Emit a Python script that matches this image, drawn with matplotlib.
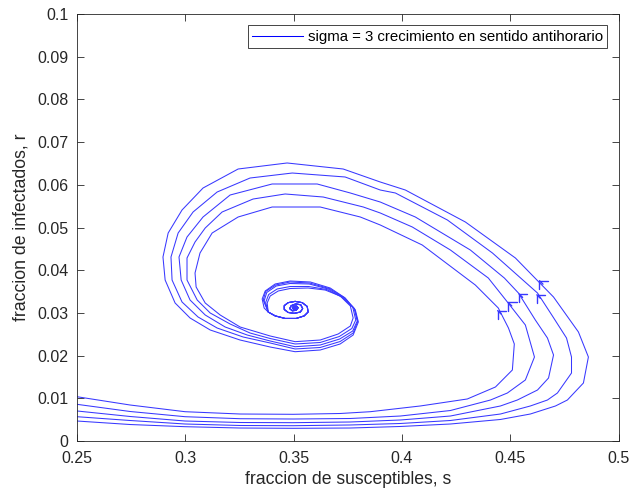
import matplotlib
matplotlib.use("Agg")
import matplotlib.pyplot as plt

plt.rcParams['font.family'] = ['Liberation Sans', 'DejaVu Sans']

# Phase-plane trajectories (s, r) for sigma = 3, five initial conditions.
# Each one runs along the bottom, climbs the right side and turns
# counter-clockwise before spiralling into the endemic equilibrium.
s_a = [0.2500, 0.2745, 0.2999, 0.3253, 0.3498, 0.3762, 0.3993, 0.4224, 0.4455, 0.4593,
       0.4709, 0.4764, 0.4838, 0.4861, 0.4815, 0.4700, 0.4524, 0.4293, 0.4016, 0.3900,
       0.3729, 0.3470, 0.3244, 0.3082, 0.2985, 0.2921, 0.2897, 0.2907, 0.2953, 0.3022,
       0.3115, 0.3253, 0.3392, 0.3507, 0.3623, 0.3715, 0.3775, 0.3799, 0.3785, 0.3738,
       0.3669, 0.3577, 0.3484, 0.3415, 0.3369, 0.3355, 0.3364]
r_a = [0.00468, 0.00386, 0.00335, 0.00304, 0.00297, 0.00304, 0.00340, 0.00398, 0.00504, 0.00632,
       0.00820, 0.00960, 0.01358, 0.01967, 0.02553, 0.03372, 0.04286, 0.05129, 0.05878, 0.06066,
       0.06370, 0.06511, 0.06370, 0.05925, 0.05410, 0.04871, 0.04309, 0.03770, 0.03232, 0.02881,
       0.02600, 0.02365, 0.02201, 0.02091, 0.02131, 0.02272, 0.02482, 0.02787, 0.03068, 0.03349,
       0.03583, 0.03724, 0.03747, 0.03677, 0.03513, 0.03326, 0.03115]

s_b = [0.2500, 0.2745, 0.2999, 0.3253, 0.3498, 0.3762, 0.3993, 0.4224, 0.4455, 0.4593,
       0.4672, 0.4718, 0.4783, 0.4783, 0.4760, 0.4695, 0.4626, 0.4418, 0.4210, 0.3970,
       0.3900, 0.3738, 0.3494, 0.3299, 0.3147, 0.3036, 0.2967, 0.2934, 0.2939, 0.2985,
       0.3059, 0.3147, 0.3267, 0.3392, 0.3507, 0.3623, 0.3715, 0.3775, 0.3796, 0.3782,
       0.3734, 0.3665, 0.3574, 0.3484, 0.3417, 0.3371, 0.3360]
r_b = [0.00569, 0.00480, 0.00398, 0.00363, 0.00358, 0.00375, 0.00410, 0.00480, 0.00632, 0.00820,
       0.00960, 0.01124, 0.01592, 0.01967, 0.02412, 0.02927, 0.03466, 0.04403, 0.05176, 0.05808,
       0.05878, 0.06183, 0.06276, 0.06159, 0.05831, 0.05363, 0.04871, 0.04309, 0.03770, 0.03255,
       0.02904, 0.02646, 0.02436, 0.02295, 0.02155, 0.02190, 0.02330, 0.02529, 0.02799, 0.03091,
       0.03361, 0.03571, 0.03700, 0.03724, 0.03653, 0.03501, 0.03302]

s_c = [0.2500, 0.2745, 0.2999, 0.3253, 0.3498, 0.3762, 0.3993, 0.4224, 0.4455, 0.4533,
       0.4626, 0.4677, 0.4700, 0.4672, 0.4616, 0.4538, 0.4473, 0.4316, 0.4062, 0.3900,
       0.3762, 0.3609, 0.3401, 0.3207, 0.3082, 0.3008, 0.2971, 0.2981, 0.3022, 0.3092,
       0.3184, 0.3286, 0.3392, 0.3507, 0.3623, 0.3713, 0.3773, 0.3794, 0.3780, 0.3729,
       0.3660, 0.3572, 0.3484, 0.3420, 0.3376, 0.3364]
r_c = [0.00703, 0.00574, 0.00468, 0.00433, 0.00429, 0.00445, 0.00492, 0.00585, 0.00820, 0.00960,
       0.01194, 0.01475, 0.02014, 0.02412, 0.02834, 0.03466, 0.03817, 0.04473, 0.05246, 0.05597,
       0.05808, 0.06019, 0.06019, 0.05761, 0.05246, 0.04777, 0.04309, 0.03770, 0.03302, 0.02951,
       0.02670, 0.02482, 0.02342, 0.02208, 0.02248, 0.02389, 0.02576, 0.02810, 0.03103, 0.03361,
       0.03560, 0.03677, 0.03689, 0.03630, 0.03478, 0.03279]

s_d = [0.2500, 0.2745, 0.2999, 0.3253, 0.3498, 0.3762, 0.3993, 0.4224, 0.4409, 0.4487,
       0.4570, 0.4612, 0.4570, 0.4487, 0.4399, 0.4224, 0.4048, 0.3900, 0.3822, 0.3637,
       0.3461, 0.3313, 0.3170, 0.3092, 0.3045, 0.3008, 0.3008, 0.3055, 0.3115, 0.3207,
       0.3299, 0.3392, 0.3507, 0.3623, 0.3711, 0.3769, 0.3787, 0.3773, 0.3722, 0.3653,
       0.3570, 0.3484, 0.3424, 0.3385, 0.3371]
r_d = [0.00859, 0.00691, 0.00569, 0.00522, 0.00515, 0.00527, 0.00585, 0.00714, 0.00960, 0.01124,
       0.01429, 0.01967, 0.02717, 0.03255, 0.03817, 0.04473, 0.05012, 0.05340, 0.05480, 0.05714,
       0.05785, 0.05667, 0.05363, 0.04988, 0.04660, 0.04286, 0.03770, 0.03302, 0.02998, 0.02740,
       0.02529, 0.02400, 0.02272, 0.02307, 0.02447, 0.02635, 0.02834, 0.03138, 0.03372, 0.03548,
       0.03618, 0.03618, 0.03560, 0.03431, 0.03244]

s_e = [0.2500, 0.2745, 0.2999, 0.3253, 0.3498, 0.3715, 0.3854, 0.4085, 0.4302, 0.4432,
       0.4510, 0.4519, 0.4492, 0.4445, 0.4339, 0.4094, 0.3900, 0.3808, 0.3623, 0.3401,
       0.3244, 0.3124, 0.3068, 0.3045, 0.3050, 0.3092, 0.3161, 0.3253, 0.3392, 0.3507,
       0.3623, 0.3706, 0.3762, 0.3775, 0.3762, 0.3715, 0.3646, 0.3567, 0.3484, 0.3429,
       0.3392, 0.3378]
r_e = [0.01037, 0.00843, 0.00686, 0.00632, 0.00625, 0.00644, 0.00686, 0.00820, 0.00984, 0.01265,
       0.01663, 0.02272, 0.02646, 0.03115, 0.03653, 0.04590, 0.05059, 0.05246, 0.05480, 0.05480,
       0.05246, 0.04871, 0.04403, 0.03934, 0.03607, 0.03232, 0.02951, 0.02670, 0.02459, 0.02326,
       0.02365, 0.02506, 0.02693, 0.02881, 0.03162, 0.03396, 0.03536, 0.03583, 0.03571, 0.03513,
       0.03396, 0.03232]

# Common inner spiral around the equilibrium (s*, r*) ~ (0.350, 0.031)
s_core = [0.3383, 0.3415, 0.3461, 0.3512, 0.3549, 0.3567, 0.3563, 0.3540, 0.3507, 0.3475,
          0.3457, 0.3457, 0.3475, 0.3503, 0.3531, 0.3542, 0.3533, 0.3510, 0.3489, 0.3482,
          0.3494, 0.3512, 0.3521, 0.3514, 0.3500, 0.3494, 0.3500, 0.3510, 0.3512, 0.3505,
          0.3500, 0.3504, 0.3507, 0.3504, 0.3503]
r_core = [0.0302, 0.0293, 0.0287, 0.0287, 0.0293, 0.0302, 0.0315, 0.0324, 0.0327, 0.0324,
          0.0317, 0.0308, 0.0301, 0.0299, 0.0302, 0.0310, 0.0319, 0.0321, 0.0317, 0.0310,
          0.0305, 0.0306, 0.0312, 0.0316, 0.0316, 0.0312, 0.0308, 0.0309, 0.0312, 0.0314,
          0.0312, 0.0310, 0.0312, 0.0312, 0.0311]

# Direction markers on each trajectory
arrow_s = [0.4439, 0.4488, 0.4538, 0.4620, 0.4632]
arrow_r = [0.0307, 0.0326, 0.0346, 0.0344, 0.0377]

x_ticks = [0.25, 0.3, 0.35, 0.4, 0.45, 0.5]
x_tick_labels = ['0.25', '0.3', '0.35', '0.4', '0.45', '0.5']
y_ticks = [0, 0.01, 0.02, 0.03, 0.04, 0.05, 0.06, 0.07, 0.08, 0.09, 0.1]
y_tick_labels = ['0', '0.01', '0.02', '0.03', '0.04', '0.05', '0.06', '0.07', '0.08', '0.09', '0.1']

legend_label = 'sigma = 3 crecimiento en sentido antihorario'
x_label = 'fraccion de susceptibles, s'
y_label = 'fraccion de infectados, r'

line_color = (0.22, 0.22, 1.0)
axis_color = (0.15, 0.15, 0.15)

fig = plt.figure(figsize=(6.33, 4.95), dpi=100)
ax = fig.add_axes([0.1216, 0.1091, 0.8555, 0.8626])

trajectories = [(s_a, r_a), (s_b, r_b), (s_c, r_c), (s_d, r_d), (s_e, r_e)]
for k, (s_vals, r_vals) in enumerate(trajectories):
    ax.plot(list(s_vals) + s_core, list(r_vals) + r_core, color=line_color, lw=0.75,
            label=legend_label if k == 0 else None)

for sx, ry in zip(arrow_s, arrow_r):
    ax.annotate('', xy=(sx, ry), xytext=(3.0, -3.0), textcoords='offset points',
                arrowprops=dict(arrowstyle='->,head_length=0.42,head_width=0.42',
                                color=line_color, lw=1.0, shrinkA=0, shrinkB=0,
                                mutation_scale=10))

ax.set_xlim(0.25, 0.5)
ax.set_ylim(0, 0.1)
ax.set_xticks(x_ticks)
ax.set_xticklabels(x_tick_labels)
ax.set_yticks(y_ticks)
ax.set_yticklabels(y_tick_labels)

ax.tick_params(direction='in', length=5, width=0.6, colors=axis_color,
               labelsize=11.5, top=True, right=True)
ax.tick_params(axis='x', pad=7)
ax.tick_params(axis='y', pad=6)
for sp in ax.spines.values():
    sp.set_color(axis_color)
    sp.set_linewidth(0.6)

ax.set_xlabel(x_label, fontsize=12.7, color=axis_color, labelpad=4)
ax.set_ylabel(y_label, fontsize=12.7, color=axis_color, labelpad=6)

leg = ax.legend(loc='upper right', fontsize=10.8, frameon=True, fancybox=False,
                framealpha=1, edgecolor=axis_color, borderpad=0.3,
                handlelength=3.4, handletextpad=0.3, borderaxespad=0.75)
leg.get_frame().set_linewidth(0.6)
leg.get_lines()[0].set_color((0.0, 0.0, 1.0))
for txt in leg.get_texts():
    txt.set_color('black')

fig.savefig('out.png', dpi=100, facecolor='white')
